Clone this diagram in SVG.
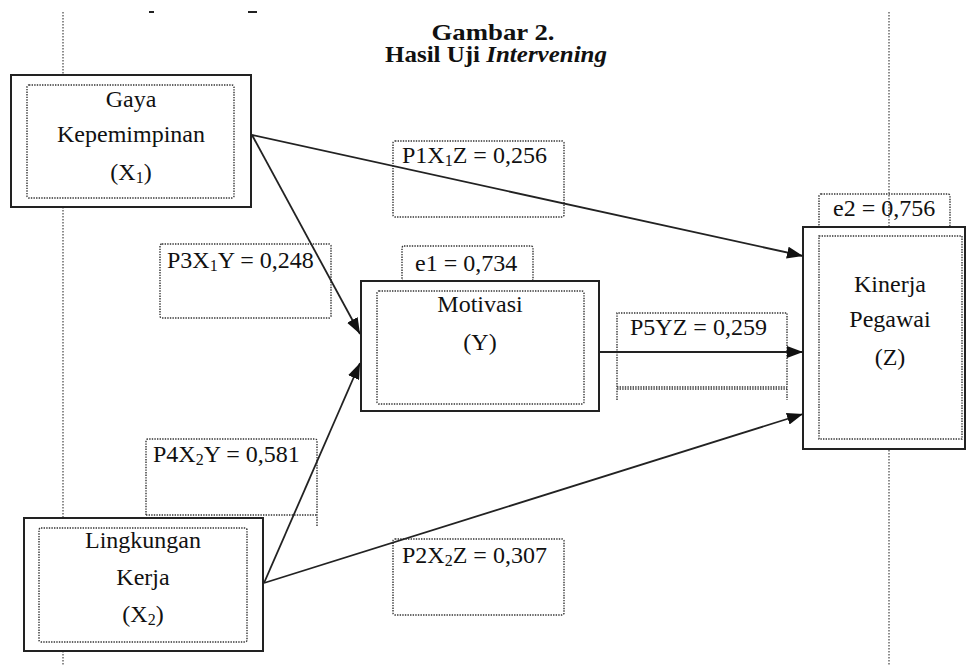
<svg xmlns="http://www.w3.org/2000/svg" width="966" height="666" viewBox="0 0 966 666">
<defs>
<style>
.t{font-family:"Liberation Serif","Times New Roman",serif;font-size:24px;fill:#111}
.n{text-anchor:middle}
.title{font-family:"Liberation Serif","Times New Roman",serif;font-size:23px;font-weight:bold;fill:#111;text-anchor:middle}
.outer{fill:#fff;stroke:#222;stroke-width:2}
.inner{fill:none;stroke:#333;stroke-width:1.4;stroke-dasharray:1.4 1.2}
.lbl{fill:none;stroke:#333;stroke-width:1.4;stroke-dasharray:1.4 1.2}
.guide{fill:none;stroke:#444;stroke-width:1.2;stroke-dasharray:1.5 1.5}
.edge{fill:none;stroke:#222;stroke-width:1.8}
</style>
<marker id="ah" markerUnits="userSpaceOnUse" markerWidth="16" markerHeight="12" viewBox="0 0 16 12" refX="16" refY="6" orient="auto">
<path d="M0,0 L16,6 L0,12 Z" fill="#111"/>
</marker>
</defs>
<rect x="0" y="0" width="966" height="666" fill="#fff"/>

<g id="guides">
<line class="guide" x1="63" y1="12" x2="63" y2="666"/>
<line class="guide" x1="889" y1="12" x2="889" y2="666"/>
<line x1="149" y1="12" x2="154" y2="12" stroke="#222" stroke-width="2"/>
<line x1="248" y1="12" x2="257" y2="12" stroke="#222" stroke-width="2"/>
</g>

<g id="title">
<text class="title" x="493" y="40" textLength="123" lengthAdjust="spacingAndGlyphs">Gambar 2.</text>
<text class="title" x="496" y="62" textLength="222" lengthAdjust="spacingAndGlyphs">Hasil Uji <tspan font-style="italic">Intervening</tspan></text>
</g>

<g id="node-x1">
<rect class="outer" x="11" y="75" width="240" height="132"/>
<rect class="inner" x="27" y="85" width="207" height="113" rx="2"/>
<text class="t n" x="131" y="107">Gaya</text>
<text class="t n" x="131" y="142">Kepemimpinan</text>
<text class="t n" x="131" y="180">(X<tspan font-size="16" dy="3">1</tspan><tspan dy="-3">)</tspan></text>
</g>

<g id="node-x2">
<rect class="outer" x="24" y="518" width="239" height="133"/>
<rect class="inner" x="39" y="528" width="208" height="114" rx="2"/>
<text class="t n" x="143" y="548">Lingkungan</text>
<text class="t n" x="143" y="585">Kerja</text>
<text class="t n" x="143" y="622">(X<tspan font-size="16" dy="3">2</tspan><tspan dy="-3">)</tspan></text>
</g>

<g id="node-y">
<rect class="lbl" x="402" y="246" width="131" height="35" rx="2"/>
<text class="t" x="415" y="271">e1 = 0,734</text>
<rect class="outer" x="361" y="281" width="238" height="130"/>
<rect class="inner" x="377" y="291" width="207" height="113" rx="2"/>
<text class="t n" x="480" y="312">Motivasi</text>
<text class="t n" x="480" y="350">(Y)</text>
</g>

<g id="node-z">
<rect class="lbl" x="819" y="194" width="131" height="33" rx="2"/>
<text class="t" x="833" y="216">e2 = 0,756</text>
<rect class="outer" x="803" y="227" width="162" height="222"/>
<rect class="inner" x="819" y="236" width="143" height="203"/>
<text class="t n" x="890" y="292">Kinerja</text>
<text class="t n" x="890" y="327">Pegawai</text>
<text class="t n" x="890" y="365">(Z)</text>
</g>

<g id="labels">
<g id="label-p1">
<rect class="lbl" x="393" y="141" width="171" height="76" rx="2"/>
<text class="t" x="402" y="163">P1X<tspan font-size="16" dy="3">1</tspan><tspan dy="-3">Z = 0,256</tspan></text>
</g>
<g id="label-p3">
<rect class="lbl" x="160" y="244" width="171" height="74" rx="2"/>
<text class="t" x="167" y="268">P3X<tspan font-size="16" dy="3">1</tspan><tspan dy="-3">Y = 0,248</tspan></text>
</g>
<g id="label-p4">
<path class="lbl" d="M146,515 L146,441 Q146,439 148,439 L315,439 Q317,439 317,441 L317,526 M146,515 L317,515"/>
<text class="t" x="153" y="462">P4X<tspan font-size="16" dy="3">2</tspan><tspan dy="-3">Y = 0,581</tspan></text>
</g>
<g id="label-p2">
<rect class="lbl" x="393" y="539" width="171" height="76" rx="2"/>
<text class="t" x="402" y="563">P2X<tspan font-size="16" dy="3">2</tspan><tspan dy="-3">Z = 0,307</tspan></text>
</g>
<g id="label-p5">
<path class="lbl" d="M617,400 L617,313 L787,313 L787,400 M617,387 L787,387 M617,389 L787,389"/>
<text class="t" x="630" y="335">P5YZ = 0,259</text>
</g>
</g>

<g id="connectors">
<line class="edge" x1="252" y1="135" x2="803" y2="256" marker-end="url(#ah)"/>
<line class="edge" x1="252" y1="135" x2="360" y2="334" marker-end="url(#ah)"/>
<line class="edge" x1="264" y1="583" x2="360" y2="363" marker-end="url(#ah)"/>
<line class="edge" x1="264" y1="583" x2="803" y2="414" marker-end="url(#ah)"/>
<line class="edge" x1="600" y1="352" x2="803" y2="352" marker-end="url(#ah)"/>
</g>
</svg>
